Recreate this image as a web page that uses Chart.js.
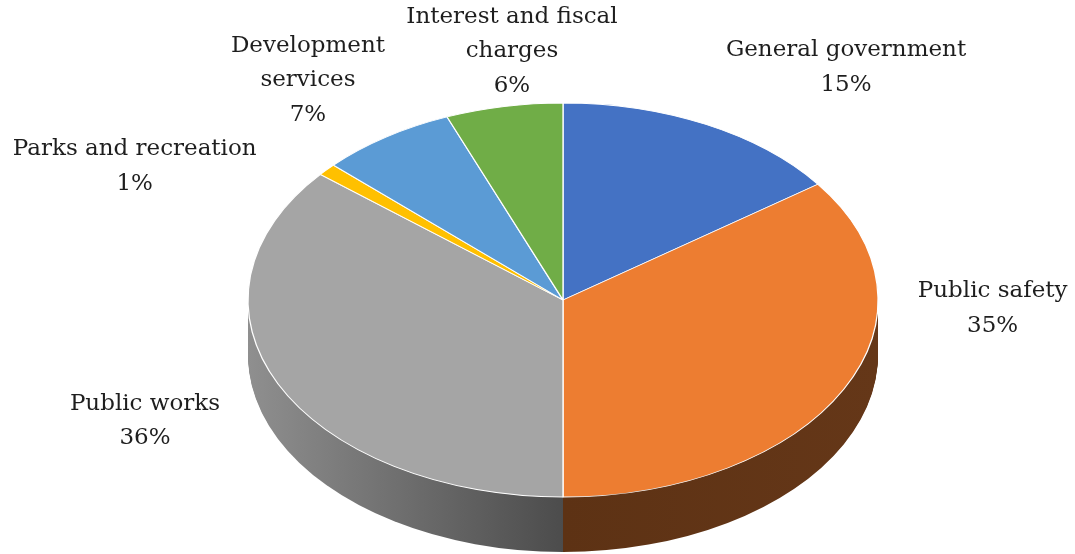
<!DOCTYPE html>
<html>
<head>
<meta charset="utf-8">
<script src="https://cdn.jsdelivr.net/npm/chart.js@4/dist/chart.umd.min.js"></script>
<style>
  html, body { margin: 0; padding: 0; background: #fff; }
  #wrap { width: 1075px; height: 554px; }
</style>
</head>
<body>
<div id="wrap"><canvas id="chart-expenses" width="1075" height="554"></canvas></div>
<script>
// 3D-looking pie of expenses by function

const categories = ['General government', 'Public safety', 'Public works', 'Parks and recreation', 'Development services', 'Interest and fiscal charges'];
const shares = [15, 35, 36, 1, 7, 6];
const labelLines = [
    ['General government'],
    ['Public safety'],
    ['Public works'],
    ['Parks and recreation'],
    ['Development', 'services'],
    ['Interest and fiscal', 'charges']
];

// ---------- Look ----------
const topColors = ['#4472C4', '#ED7D31', '#A5A5A5', '#FFC000', '#5B9BD5', '#70AD47'];
const sideShades = [
    ['#2b4a80', '#2b4a80', '#2b4a80'],
    ['#5c3114', '#5d3214', '#653718'],
    ['#8f8f8f', '#4c4c4c', '#4c4c4c'],
    ['#a07800', '#a07800', '#a07800'],
    ['#3a6a98', '#3a6a98', '#3a6a98'],
    ['#466f2b', '#466f2b', '#466f2b']
];
const STRETCH = 315 / 197;   // ellipse width / height
const DEPTH = 55;            // thickness of the disc
const LINE_H = 34.5;
// label block centre, relative to the rim point at the slice middle
const labelOffsets = [[140, -57], [149, -81], [-133, 37], [-192, -3], [-78, -57], [8, -55]];

// ---------- Tilt + sides ----------
const tiltPlugin = {
    id: 'tilt',
    beforeDatasetsDraw(chart) {
        const ctx = chart.ctx;
        const arcs = chart.getDatasetMeta(0).data;
        const cx = arcs[0].x, r = arcs[0].outerRadius;
        ctx.save();
        ctx.translate(cx, 0);
        ctx.scale(STRETCH, 1);
        ctx.translate(-cx, 0);

        const fills = sideShades.map(s => {
            const g = ctx.createLinearGradient(cx - r, 0, cx + r, 0);
            g.addColorStop(0, s[0]);
            g.addColorStop(0.5, s[1]);
            g.addColorStop(1, s[2]);
            return g;
        });

        for (let d = DEPTH; d > 0; d--) {
            arcs.forEach((arc, i) => {
                const saved = arc.options;
                arc.options = Object.assign({}, saved, { backgroundColor: fills[i], borderWidth: 0 });
                ctx.save();
                ctx.translate(0, d);
                arc.draw(ctx);
                ctx.restore();
                arc.options = saved;
            });
        }
    },
    afterDatasetsDraw(chart) {
        chart.ctx.restore();
    }
};

// ---------- Labels ----------
const labelPlugin = {
    id: 'sliceLabels',
    afterDraw(chart) {
        const ctx = chart.ctx;
        const arcs = chart.getDatasetMeta(0).data;
        ctx.save();
        ctx.font = '23px "DejaVu Serif"';
        ctx.fillStyle = '#1e1e1e';
        ctx.textAlign = 'center';
        ctx.textBaseline = 'middle';
        arcs.forEach((arc, i) => {
            const mid = (arc.startAngle + arc.endAngle) / 2;
            const px = arc.x + STRETCH * arc.outerRadius * Math.cos(mid);
            const py = arc.y + arc.outerRadius * Math.sin(mid);
            const bx = px + labelOffsets[i][0];
            const by = py + labelOffsets[i][1];
            const lines = [...labelLines[i], shares[i] + '%'];
            const top = by - (lines.length - 1) * LINE_H / 2;
            lines.forEach((t, j) => ctx.fillText(t, bx, top + j * LINE_H));
        });
        ctx.restore();
    }
};

// ---------- Chart ----------
new Chart(document.getElementById('chart-expenses').getContext('2d'), {
    type: 'pie',
    data: {
        labels: categories,
        datasets: [{
            data: shares,
            backgroundColor: topColors,
            borderColor: '#ffffff',
            borderWidth: 0.8,
            radius: 197,
            clip: false
        }]
    },
    options: {
        responsive: false,
        animation: false,
        layout: { padding: { top: 103, bottom: 57, left: 51, right: 0 } },
        plugins: {
            legend: { display: false },
            tooltip: { enabled: false }
        }
    },
    plugins: [tiltPlugin, labelPlugin]
});
</script>
</body>
</html>
